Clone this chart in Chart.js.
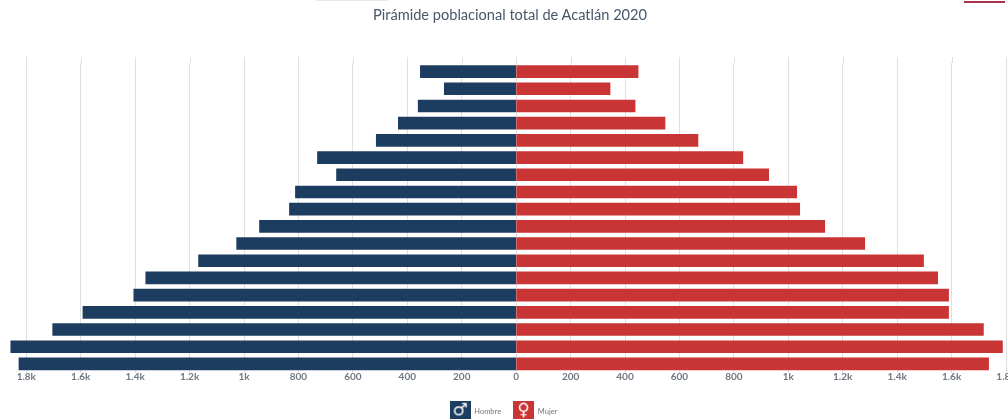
<!DOCTYPE html>
<html>
<head>
<meta charset="utf-8">
<title>Pirámide poblacional total de Acatlán 2020</title>
<script src="https://cdn.jsdelivr.net/npm/chart.js@4/dist/chart.umd.min.js"></script>
<style>
    html, body { margin: 0; padding: 0; background: #fff; overflow: hidden; }
    #wrap { position: relative; width: 1008px; height: 419px; overflow: hidden; }
    #chartTitle { position: absolute; left: 310px; width: 400px; top: 6px; text-align: center; font: 14.6px "Lato", sans-serif; color: #47586a; }
    #topRule { position: absolute; left: 964px; top: 1px; width: 41px; height: 2px; background: #a8324a; }
    #topFaint { position: absolute; left: 316px; top: 0; width: 72px; height: 1px; background: #e8e8e8; }
</style>
</head>
<body>
<div id="wrap">
    <div id="topFaint"></div>
    <div id="chartTitle">Pirámide poblacional total de Acatlán 2020</div>
    <div id="topRule"></div>
    <canvas id="pyramid" width="1008" height="425"></canvas>
</div>
<script>
// top bar is the oldest group
const ageGroups = ['85+', '80-84', '75-79', '70-74', '65-69', '60-64', '55-59', '50-54', '45-49', '40-44', '35-39', '30-34', '25-29', '20-24', '15-19', '10-14', '5-9', '0-4'];
const hombres = [-352, -264, -360, -433, -514, -730, -660, -811, -833, -943, -1027, -1167, -1361, -1405, -1592, -1703, -1857, -1827];
const mujeres = [448, 345, 437, 547, 668, 833, 928, 1031, 1042, 1134, 1281, 1497, 1549, 1589, 1589, 1717, 1787, 1736];
const xTicks = [-1800, -1600, -1400, -1200, -1000, -800, -600, -400, -200, 0, 200, 400, 600, 800, 1000, 1200, 1400, 1600, 1800];

const navy = '#1c3d5f';
const red = '#c93434';
const gridColor = '#e0e0e0';

// legend icon: coloured square with the gender symbol on it
function makeIcon(color, symbol) {
    const c = document.createElement('canvas');
    c.width = 21;
    c.height = 20;
    const g = c.getContext('2d');
    g.fillStyle = color;
    g.fillRect(0, 0, 21, 20);
    g.fillStyle = '#fff';
    g.font = 'bold 17px "DejaVu Sans"';
    g.textAlign = 'center';
    g.textBaseline = 'middle';
    g.fillText(symbol, 10.5, 10);
    return c;
}

function tickText(v) {
    const a = Math.abs(v);
    return a >= 1000 ? (a / 1000) + 'k' : String(a);
}

// grid lines start a little above the first band
const gridTop = {
    id: 'gridTop',
    beforeDatasetsDraw(chart) {
        const g = chart.ctx;
        const x = chart.scales.x;
        g.save();
        g.strokeStyle = gridColor;
        g.lineWidth = 1;
        xTicks.forEach(function(t) {
            const px = Math.round(x.getPixelForValue(t)) + 0.5;
            g.beginPath();
            g.moveTo(px, chart.chartArea.top - 6);
            g.lineTo(px, chart.chartArea.top);
            g.stroke();
        });
        g.restore();
    }
};

new Chart(document.getElementById('pyramid').getContext('2d'), {
    type: 'bar',
    plugins: [gridTop],
    data: {
        labels: ageGroups,
        datasets: [
            { label: 'Hombre', data: hombres, backgroundColor: navy, barThickness: 12, pointStyle: makeIcon(navy, '\u2642') },
            { label: 'Mujer', data: mujeres, backgroundColor: red, barThickness: 12, pointStyle: makeIcon(red, '\u2640') }
        ]
    },
    options: {
        indexAxis: 'y',
        responsive: false,
        animation: false,
        layout: { padding: { top: 63, left: 1, right: 2, bottom: 0 } },
        scales: {
            x: {
                stacked: true,
                min: -1893,
                max: 1800,
                afterBuildTicks(axis) {
                    axis.ticks = xTicks.map(function(v) { return { value: v }; });
                },
                afterFit(axis) {
                    axis.paddingLeft = 0;
                    axis.paddingRight = 0;
                    axis.height = 23;
                },
                border: { display: false },
                grid: { color: gridColor, tickLength: 0 },
                ticks: {
                    autoSkip: false,
                    maxRotation: 0,
                    padding: -2,
                    color: '#6f7780',
                    font: { family: 'Lato', size: 10, weight: 'bold' },
                    callback: tickText
                }
            },
            y: { stacked: true, display: false }
        },
        plugins: {
            title: { display: false },
            tooltip: { enabled: false },
            legend: {
                position: 'bottom',
                labels: {
                    usePointStyle: true,
                    pointStyleWidth: 21,
                    boxHeight: 7,
                    padding: 12,
                    color: '#777',
                    font: { family: 'Lato', size: 7.5 }
                }
            }
        }
    }
});
</script>
</body>
</html>
